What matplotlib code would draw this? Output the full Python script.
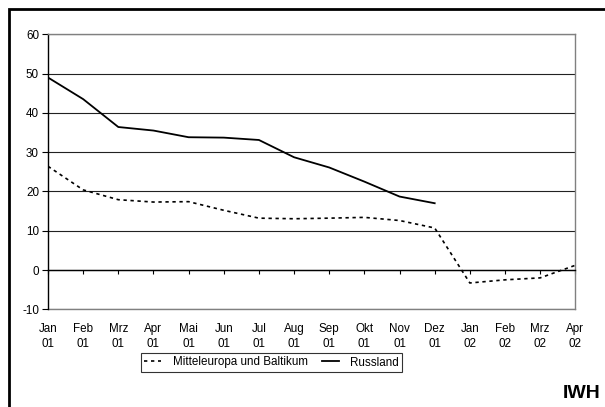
import matplotlib
matplotlib.use("Agg")
import matplotlib.pyplot as plt
from matplotlib.lines import Line2D

plt.rcParams['font.family'] = ['Liberation Sans', 'DejaVu Sans']
plt.rcParams['axes.unicode_minus'] = False

months = ["Jan\n01", "Feb\n01", "Mrz\n01", "Apr\n01", "Mai\n01", "Jun\n01", "Jul\n01",
          "Aug\n01", "Sep\n01", "Okt\n01", "Nov\n01", "Dez\n01", "Jan\n02", "Feb\n02",
          "Mrz\n02", "Apr\n02"]
mittel = [26.4, 20.4, 17.9, 17.3, 17.4, 15.2, 13.2, 13.05, 13.2, 13.4, 12.6, 10.7,
          -3.3, -2.5, -2.0, 1.2]
russland = [49.0, 43.5, 36.4, 35.5, 33.8, 33.7, 33.1, 28.7, 26.1, 22.5, 18.7, 17.0]
yticks = [-10, 0, 10, 20, 30, 40, 50, 60]

FS = 8.4

fig = plt.figure(figsize=(6.05, 4.07), dpi=100)
ax = fig.add_axes([48/605, 1-309.3/407, (575.3-48)/605, (309.3-34.3)/407])

x_m = list(range(len(mittel)))
x_r = list(range(len(russland)))
l1, = ax.plot(x_m, mittel, color='black', lw=1.2, linestyle=(0, (2, 2.2)),
              label='Mitteleuropa und Baltikum', solid_capstyle='butt')
l2, = ax.plot(x_r, russland, color='black', lw=1.3, label='Russland')

ax.set_xlim(0, len(months) - 1)
ax.set_ylim(-10, 60)
ax.set_yticks(yticks)
ax.yaxis.grid(True, color='#222222', lw=0.8)
ax.set_axisbelow(True)

for s in ['top', 'right']:
    ax.spines[s].set_color('#808080')
    ax.spines[s].set_linewidth(1.0)
ax.spines['left'].set_color('black')
ax.spines['left'].set_linewidth(1.0)
ax.spines['bottom'].set_position(('data', 0))
ax.spines['bottom'].set_color('black')
ax.spines['bottom'].set_linewidth(1.0)

ax.set_xticks(x_m)
ax.tick_params(axis='x', direction='out', length=3, width=0.8, labelbottom=False)
ax.tick_params(axis='y', direction='out', length=4, width=0.8, labelsize=FS, pad=2.5)

sec = ax.secondary_xaxis(0.0)
sec.set_xticks(x_m)
sec.set_xticklabels(months, fontsize=FS, linespacing=1.3)
sec.tick_params(length=0, pad=10)
sec.spines['bottom'].set_color('#808080')
sec.spines['bottom'].set_linewidth(1.0)

leg = fig.legend(handles=[l1, l2], loc='center', ncol=2,
                 bbox_to_anchor=((141+402)/2/605, 1-362.5/407),
                 fontsize=FS, frameon=True, fancybox=False, edgecolor='black',
                 handlelength=1.45, handletextpad=1.0, columnspacing=1.2,
                 borderpad=0.3, borderaxespad=0)
leg.get_frame().set_linewidth(0.8)

fig.text(601/605, 1-394/407, "IWH", fontsize=14, fontweight='bold',
         ha='right', va='center')

fig.add_artist(Line2D([8.7/605, 8.7/605, 1.0], [0.0, 1-8.7/407, 1-8.7/407],
                      transform=fig.transFigure, color='black', lw=2.0,
                      solid_joinstyle='miter'))

fig.savefig("out.png", dpi=100)
